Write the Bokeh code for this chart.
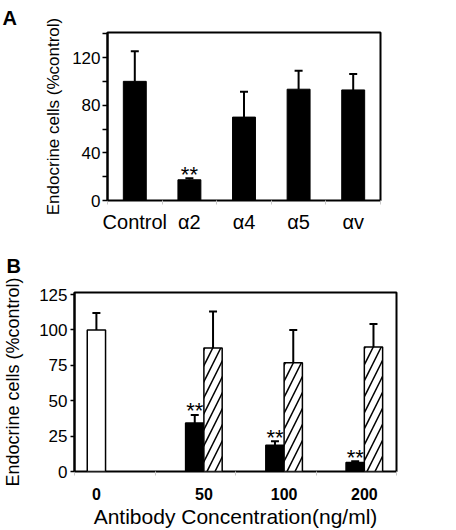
import numpy as np
from bokeh.plotting import figure
from bokeh.models import (Range1d, FixedTicker, ColumnDataSource, Whisker, TeeHead,
                          Legend, LegendItem, Title)
from bokeh.core.properties import value
from bokeh.layouts import row
from bokeh.embed import file_html
from bokeh.resources import INLINE

# ---------------- Panel A data ----------------
a_categories = ["Control", "α2", "α4", "α5", "αv"]
a_values = [100.0, 17.4, 70.0, 93.4, 92.8]
a_errors = [25.2, 1.3, 21.2, 15.4, 13.4]
a_signif = ["", "**", "", "", ""]
a_yticks = [0, 40, 80, 120]
a_yminor = [20, 60, 100, 140]

# ---------------- Panel B data ----------------
b_concentrations = ["0", "50", "100", "200"]
b_control = [100.0]
b_control_err = [12.0]
b_a2 = [34.3, 18.6, 6.3]
b_a2_err = [5.7, 2.8, 0.9]
b_a1 = [87.3, 76.8, 88.0]
b_a1_err = [25.7, 23.2, 16.3]
b_signif = ["**", "**", "**"]
b_yticks = [0, 25, 50, 75, 100, 125]
b_legend = ["α2", "α1"]

SANS = "Liberation Sans"


def base_style(p):
    p.xgrid.visible = False
    p.ygrid.visible = False
    p.outline_line_color = "black"
    p.outline_line_width = 2
    p.background_fill_color = "white"
    p.border_fill_color = "white"


def style_yaxis(ax, size, title_size, label_standoff, title_standoff, tick_out):
    ax.axis_line_color = "black"
    ax.axis_line_width = 2
    ax.major_tick_line_color = "black"
    ax.minor_tick_line_color = "black"
    ax.major_tick_line_width = 1.5
    ax.minor_tick_line_width = 1.5
    ax.major_tick_in = 0
    ax.minor_tick_in = 0
    ax.major_tick_out = tick_out
    ax.minor_tick_out = tick_out
    ax.major_label_text_font = SANS
    ax.major_label_text_font_size = size
    ax.major_label_text_color = "black"
    ax.major_label_standoff = label_standoff
    ax.axis_label_text_font = SANS
    ax.axis_label_text_font_size = title_size
    ax.axis_label_text_font_style = "normal"
    ax.axis_label_text_color = "black"
    ax.axis_label_standoff = title_standoff


def style_xaxis(ax, bounds, tick_pos, labels, size, style, standoff):
    ax.ticker = FixedTicker(ticks=tick_pos, minor_ticks=bounds)
    ax.major_label_overrides = {pos: lab for pos, lab in zip(tick_pos, labels)}
    ax.axis_line_color = None
    ax.major_tick_line_color = None
    ax.major_tick_in = 1
    ax.major_tick_out = 1
    ax.minor_tick_line_color = "#c8c8c8"
    ax.minor_tick_line_width = 1
    ax.minor_tick_in = 0
    ax.minor_tick_out = 4
    ax.major_label_text_font = SANS
    ax.major_label_text_font_size = size
    ax.major_label_text_font_style = style
    ax.major_label_text_color = "black"
    ax.major_label_standoff = standoff


# ================= Panel A =================
a_idx = np.arange(len(a_categories)).astype(float)
srcA = ColumnDataSource(dict(
    x=list(a_idx),
    top=a_values,
    upper=[float(v) for v in np.add(a_values, a_errors)],
    sig=a_signif,
))

A_LEFT = 107
pA = figure(width=454, height=235,
            x_range=Range1d(-0.5, len(a_categories) - 0.5),
            y_range=Range1d(0, 141),
            output_backend="svg", toolbar_location=None,
            min_border_left=A_LEFT, min_border_right=74,
            min_border_top=29, min_border_bottom=30)
base_style(pA)
pA.add_layout(Title(text="A", align="left", offset=-(A_LEFT - 2), standoff=8,
                    text_font=SANS, text_font_size="20px", text_font_style="bold",
                    text_color="black"), "above")

pA.add_layout(Whisker(source=srcA, base="x", lower="top", upper="upper",
                      dimension="height", line_color="black", line_width=2,
                      upper_head=TeeHead(size=8, line_color="black", line_width=2),
                      lower_head=None))
pA.vbar(x="x", top="top", bottom=0, width=0.42, source=srcA,
        fill_color="black", line_color="black")
pA.text(x="x", y="upper", text="sig", source=srcA, text_align="center",
        text_baseline="alphabetic", y_offset=-4, text_font=value(SANS),
        text_font_size="22px", text_color="black")

pA.yaxis.ticker = FixedTicker(ticks=a_yticks, minor_ticks=a_yminor)
pA.yaxis.axis_label = "Endocrine cells (%control)"
style_yaxis(pA.yaxis, "17px", "17px", 2, 6, 5)

a_bounds = [float(v) for v in np.linspace(-0.5, len(a_categories) - 0.5, len(a_categories) + 1)]
style_xaxis(pA.xaxis, a_bounds, [float(v) for v in a_idx], a_categories, "20px", "normal", 6)

# ================= Panel B =================
b_idx = np.arange(len(b_concentrations)).astype(float)
bar_w = 0.228
ctrl_shift = -0.34
treat_idx = b_idx[1:]

src_ctrl = ColumnDataSource(dict(x=[float(b_idx[0] + ctrl_shift)], top=b_control,
                                 upper=[float(v) for v in np.add(b_control, b_control_err)]))
src_a2 = ColumnDataSource(dict(x=[float(v) for v in treat_idx - bar_w / 2], top=b_a2,
                               upper=[float(v) for v in np.add(b_a2, b_a2_err)], sig=b_signif))
src_a1 = ColumnDataSource(dict(x=[float(v) for v in treat_idx + bar_w / 2], top=b_a1,
                               upper=[float(v) for v in np.add(b_a1, b_a1_err)]))

B_LEFT, B_RIGHT, B_TOP, B_BOTTOM = 70, 2, 57, 58
B_W, B_H = 398, 295
pB = figure(width=B_W, height=B_H,
            x_range=Range1d(-0.613, 3.401),
            y_range=Range1d(0, 126.5),
            output_backend="svg", toolbar_location=None,
            min_border_left=B_LEFT, min_border_right=B_RIGHT,
            min_border_top=B_TOP, min_border_bottom=B_BOTTOM)
base_style(pB)
pB.add_layout(Title(text="B", align="left", offset=-(B_LEFT - 2), standoff=32,
                    text_font=SANS, text_font_size="20px", text_font_style="bold",
                    text_color="black"), "above")

for src in (src_ctrl, src_a2, src_a1):
    pB.add_layout(Whisker(source=src, base="x", lower="top", upper="upper",
                          dimension="height", line_color="black", line_width=2,
                          upper_head=TeeHead(size=8, line_color="black", line_width=2),
                          lower_head=None))

a2_style = dict(fill_color="black", line_color="black", line_width=1.5)
a1_style = dict(fill_color="white", line_color="black", line_width=1.5,
                hatch_pattern="/", hatch_color="black", hatch_weight=1.5, hatch_scale=16)

pB.vbar(x="x", top="top", bottom=0, width=bar_w, source=src_ctrl,
        fill_color="white", line_color="black", line_width=1.5)
pB.vbar(x="x", top="top", bottom=0, width=bar_w, source=src_a2, **a2_style)
pB.vbar(x="x", top="top", bottom=0, width=bar_w, source=src_a1, **a1_style)
pB.text(x="x", y="upper", text="sig", source=src_a2, text_align="center",
        text_baseline="alphabetic", y_offset=-4, text_font=value(SANS),
        text_font_size="22px", text_color="black")

pB.yaxis.ticker = FixedTicker(ticks=b_yticks)
pB.yaxis.axis_label = "Endocrine cells (%control)"
style_yaxis(pB.yaxis, "17px", "18px", 3, 13, 4)

tick_pos = [float(b_idx[0] + ctrl_shift)] + [float(v) for v in treat_idx]
b_bounds = [float(v) for v in np.linspace(pB.x_range.start, pB.x_range.end, len(b_concentrations) + 1)]
style_xaxis(pB.xaxis, b_bounds, tick_pos, b_concentrations, "16px", "bold", 12)
pB.xaxis.axis_label = "Antibody Concentration(ng/ml)"
pB.xaxis.axis_label_text_font = SANS
pB.xaxis.axis_label_text_font_size = "21px"
pB.xaxis.axis_label_text_font_style = "normal"
pB.xaxis.axis_label_text_color = "black"
pB.xaxis.axis_label_standoff = 2

# ---- legend strip to the right of panel B ----
L_W = 454 - B_W
pL = figure(width=L_W, height=B_H, x_range=Range1d(0, 1), y_range=Range1d(0, 1),
            x_axis_type=None, y_axis_type=None, output_backend="svg",
            toolbar_location=None, min_border=0)
pL.outline_line_color = None
pL.background_fill_color = "white"
pL.border_fill_color = "white"
empty = dict(x=[], top=[])
l_a2 = pL.vbar(x="x", top="top", width=0.1, source=ColumnDataSource(dict(empty)), **a2_style)
l_a1 = pL.vbar(x="x", top="top", width=0.1, source=ColumnDataSource(dict(empty)), **a1_style)
legend_h = 2 * 23 + 4
legend = Legend(items=[LegendItem(label=b_legend[0], renderers=[l_a2]),
                       LegendItem(label=b_legend[1], renderers=[l_a1])],
                location=(5, B_H - (B_TOP + 1) - legend_h),
                margin=0, padding=0, spacing=4,
                glyph_width=24, glyph_height=23, label_standoff=3, label_height=23,
                label_text_font=SANS, label_text_font_size="20px", label_text_color="black",
                border_line_color=None, background_fill_alpha=0)
pL.add_layout(legend)

open("out.html", "w").write(file_html([pA, row(pB, pL)], INLINE))
